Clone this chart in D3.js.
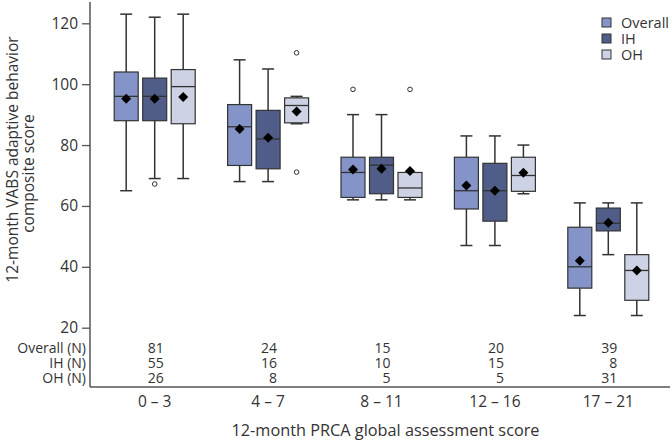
<!DOCTYPE html>
<html>
<head>
<meta charset="utf-8">
<script src="https://cdn.jsdelivr.net/npm/d3@7"></script>
<style>
  body { margin: 0; background: #fff; }
  svg { font-family: "Open Sans", sans-serif; }
</style>
</head>
<body>
<div id="chart"></div>
<script>
const width = 672;
const height = 443;

// categories and series
const groups = ["0 – 3", "4 – 7", "8 – 11", "12 – 16", "17 – 21"];
const series = ["Overall", "IH", "OH"];
const colors = ["#8494c8", "#4f5d88", "#cdd2e4"];

// box stats per series, one entry per group: [low whisker, q1, median, q3, high whisker]
const overallBoxes = [[65, 88, 96, 104, 123], [68, 73.3, 86, 93.3, 108], [62, 62.8, 71, 76, 90], [47, 59, 65, 76, 83], [24, 33, 40, 53, 61]];
const ihBoxes = [[69, 88, 96, 102, 122], [68, 72.2, 82, 91.4, 105], [62, 64, 73.4, 76, 90], [47, 55, 65, 74, 83], [44, 51.8, 54.3, 59.3, 61]];
const ohBoxes = [[69, 87, 99.2, 104.8, 123], [87, 87.3, 93, 95.5, 96], [62, 62.8, 65.9, 71, 71], [64, 64.8, 70, 76, 80], [24, 29, 38.8, 44, 61]];

const overallMeans = [95.2, 85.3, 72, 66.7, 42];
const ihMeans = [95.2, 82.4, 72.2, 65, 54.5];
const ohMeans = [95.8, 91, 71.5, 70.9, 38.8];

const overallOutliers = [[], [], [98.3], [], []];
const ihOutliers = [[67.2], [], [], [], []];
const ohOutliers = [[], [110.3, 71.1], [98.3], [], []];

// N counts under the boxes
const overallN = [81, 24, 15, 20, 39];
const ihN = [55, 16, 10, 15, 8];
const ohN = [26, 8, 5, 5, 31];
const nLabels = ["Overall (N)", "IH (N)", "OH (N)"];

const yTicks = [20, 40, 60, 80, 100, 120];

const boxes = [overallBoxes, ihBoxes, ohBoxes];
const means = [overallMeans, ihMeans, ohMeans];
const outliers = [overallOutliers, ihOutliers, ohOutliers];
const counts = [overallN, ihN, ohN];

const axisX = 90;
const axisY = 387;
const textCol = "#333";

const svg = d3.select("#chart")
    .append("svg")
    .attr("width", width)
    .attr("height", height);

const x = d3.scaleBand()
    .domain(groups)
    .range([98, 665])
    .padding(0);

const y = d3.scaleLinear()
    .domain([20, 120])
    .range([327.7, 23.3]);

const offset = 28.5;
const boxW = 24;
const capW = 12;
const ink = "#333";

// y axis
const yAxis = svg.append("g")
    .attr("transform", `translate(${axisX},0)`)
    .call(d3.axisLeft(y).tickValues(yTicks).tickSize(8).tickPadding(4).tickSizeOuter(0));
yAxis.select(".domain").remove();
yAxis.selectAll("line").attr("stroke", "#555").attr("stroke-width", 1.3);
yAxis.selectAll("text").attr("fill", textCol).style("font-size", "15.5px").style("font-family", "Open Sans");

// x axis
const xAxis = svg.append("g")
    .attr("transform", `translate(0,${axisY})`)
    .call(d3.axisBottom(x).tickSize(0).tickPadding(9));
xAxis.select(".domain").remove();
xAxis.selectAll("text").attr("fill", textCol).style("font-size", "15.5px").style("font-family", "Open Sans");

// axis lines
svg.append("line")
    .attr("x1", axisX).attr("x2", axisX)
    .attr("y1", 2).attr("y2", axisY)
    .attr("stroke", "#555").attr("stroke-width", 1.5);
svg.append("line")
    .attr("x1", axisX).attr("x2", 670)
    .attr("y1", axisY).attr("y2", axisY)
    .attr("stroke", "#555").attr("stroke-width", 1.5);

// boxes
series.forEach((s, si) => {
    const g = svg.append("g").attr("class", "series-" + s);
    groups.forEach((grp, gi) => {
        const cx = x(grp) + x.bandwidth() / 2 + (si - 1) * offset;
        const [lo, q1, med, q3, hi] = boxes[si][gi];

        // whiskers
        g.append("line")
            .attr("x1", cx).attr("x2", cx)
            .attr("y1", y(hi)).attr("y2", y(q3))
            .attr("stroke", ink).attr("stroke-width", 1.5);
        g.append("line")
            .attr("x1", cx).attr("x2", cx)
            .attr("y1", y(q1)).attr("y2", y(lo))
            .attr("stroke", ink).attr("stroke-width", 1.5);
        [lo, hi].forEach(v => {
            g.append("line")
                .attr("x1", cx - capW / 2).attr("x2", cx + capW / 2)
                .attr("y1", y(v)).attr("y2", y(v))
                .attr("stroke", ink).attr("stroke-width", 1.5);
        });

        // box
        g.append("rect")
            .attr("x", cx - boxW / 2)
            .attr("y", y(q3))
            .attr("width", boxW)
            .attr("height", y(q1) - y(q3))
            .attr("fill", colors[si])
            .attr("stroke", ink)
            .attr("stroke-width", 1.2);
        g.append("line")
            .attr("x1", cx - boxW / 2).attr("x2", cx + boxW / 2)
            .attr("y1", y(med)).attr("y2", y(med))
            .attr("stroke", ink).attr("stroke-width", 1.3);

        // mean diamond
        g.append("path")
            .attr("transform", `translate(${cx},${y(means[si][gi])}) rotate(45)`)
            .attr("d", d3.symbol().type(d3.symbolSquare).size(50)())
            .attr("fill", "#000");

        // outliers
        outliers[si][gi].forEach(v => {
            g.append("circle")
                .attr("cx", cx).attr("cy", y(v)).attr("r", 2.3)
                .attr("fill", "#fff").attr("stroke", ink).attr("stroke-width", 1);
        });
    });
});

// N table
const nRows = [352.5, 367.5, 382.5];
nLabels.forEach((lab, i) => {
    svg.append("text")
        .attr("x", 86).attr("y", nRows[i])
        .attr("text-anchor", "end")
        .attr("fill", textCol)
        .style("font-size", "14px")
        .text(lab);
    groups.forEach((grp, gi) => {
        svg.append("text")
            .attr("x", x(grp) + x.bandwidth() / 2 + 9)
            .attr("y", nRows[i])
            .attr("text-anchor", "end")
            .attr("fill", textCol)
            .style("font-size", "14px")
            .text(counts[i][gi]);
    });
});

// legend
const legend = svg.append("g").attr("transform", "translate(602,18)");
series.forEach((s, i) => {
    legend.append("rect")
        .attr("x", 0).attr("y", i * 16)
        .attr("width", 9).attr("height", 9)
        .attr("fill", colors[i])
        .attr("stroke", ink).attr("stroke-width", 1);
    legend.append("text")
        .attr("x", 19).attr("y", i * 16 + 10)
        .attr("fill", textCol)
        .style("font-size", "14.5px")
        .text(s);
});

// axis titles
svg.append("text")
    .attr("transform", "translate(17.5,159.5) rotate(-90)")
    .attr("text-anchor", "middle")
    .attr("fill", textCol)
    .style("font-size", "15.5px")
    .text("12-month VABS adaptive behavior");
svg.append("text")
    .attr("transform", "translate(34,173.5) rotate(-90)")
    .attr("text-anchor", "middle")
    .attr("fill", textCol)
    .style("font-size", "15.5px")
    .text("composite score");
svg.append("text")
    .attr("x", 385.5).attr("y", 436)
    .attr("text-anchor", "middle")
    .attr("fill", textCol)
    .style("font-size", "16.3px")
    .text("12-month PRCA global assessment score");
</script>
</body>
</html>
